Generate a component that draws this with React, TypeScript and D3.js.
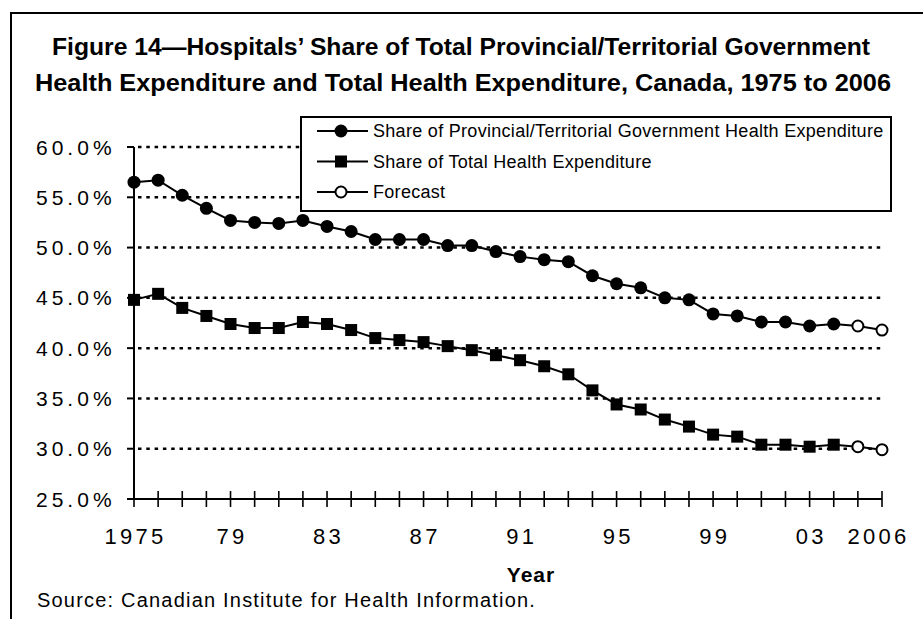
import * as d3 from "d3";

const years = d3.range(1975, 2007);
const provShare = [
  56.5, 56.7, 55.2, 53.9, 52.7, 52.5, 52.4, 52.7, 52.1, 51.6, 50.8, 50.8, 50.8,
  50.2, 50.2, 49.6, 49.1, 48.8, 48.6, 47.2, 46.4, 46.0, 45.0, 44.8, 43.4, 43.2,
  42.6, 42.6, 42.2, 42.4, 42.2, 41.8,
];
const totalShare = [
  44.8, 45.4, 44.0, 43.2, 42.4, 42.0, 42.0, 42.6, 42.4, 41.8, 41.0, 40.8, 40.6,
  40.2, 39.8, 39.3, 38.8, 38.2, 37.4, 35.8, 34.4, 33.9, 32.9, 32.2, 31.4, 31.2,
  30.4, 30.4, 30.2, 30.4, 30.2, 29.9,
];
const forecastYears = [2005, 2006];
const yTicks = [25, 30, 35, 40, 45, 50, 55, 60];
const xLabelYears = [1975, 1979, 1983, 1987, 1991, 1995, 1999, 2003, 2006];
const xLabels = ["1975", "79", "83", "87", "91", "95", "99", "03", "2006"];
const legendItems = [
  "Share of Provincial/Territorial Government Health Expenditure",
  "Share of Total Health Expenditure",
  "Forecast",
];

const W = 923;
const H = 619;
const font = "'Liberation Sans', Arial, sans-serif";

export default function App() {
  const x = d3.scaleLinear().domain([1975, 2006]).range([134, 882]);
  const y = d3.scaleLinear().domain([25, 60]).range([499, 147]);

  const line = d3
    .line<number>()
    .x((_, i) => x(years[i]))
    .y((d) => y(d));

  const isFc = (yr: number) => forecastYears.includes(yr);

  return (
    <svg
      width={W}
      height={H}
      style={{ position: "fixed", left: 0, top: 0, background: "#fff" }}
      fontFamily={font}
    >
      {/* frame: left and top only */}
      <path d={`M11,${H} V13 H${W}`} fill="none" stroke="#000" strokeWidth={2} />

      {/* title */}
      <g fontWeight="bold" fontSize={23} textAnchor="middle">
        <text x={461} y={55} textLength={818} lengthAdjust="spacingAndGlyphs">
          Figure 14—Hospitals’ Share of Total Provincial/Territorial Government
        </text>
        <text x={463} y={91} textLength={856} lengthAdjust="spacingAndGlyphs">
          Health Expenditure and Total Health Expenditure, Canada, 1975 to 2006
        </text>
      </g>

      {/* gridlines */}
      {yTicks
        .filter((t) => t > 25)
        .map((t) => (
          <line
            key={t}
            x1={x(1975)}
            x2={x(2006) + 1}
            y1={y(t)}
            y2={y(t)}
            stroke="#000"
            strokeWidth={2.5}
            strokeDasharray="3.5 4.8"
            strokeDashoffset={-4}
          />
        ))}

      {/* y axis */}
      <line x1={x(1975)} x2={x(1975)} y1={y(60)} y2={y(25)} stroke="#000" strokeWidth={2} />
      {yTicks.map((t) => (
        <g key={t}>
          <line x1={x(1975) - 7} x2={x(1975)} y1={y(t)} y2={y(t)} stroke="#000" strokeWidth={2} />
          <text
            x={36}
            y={y(t)}
            dy="0.36em"
            fontSize={21}
            letterSpacing={4}
          >
            {t.toFixed(1)}%
          </text>
        </g>
      ))}

      {/* x axis */}
      <line x1={x(1975) - 7} x2={x(2006)} y1={y(25)} y2={y(25)} stroke="#000" strokeWidth={2} />
      {years.map((yr) => (
        <line
          key={yr}
          x1={x(yr)}
          x2={x(yr)}
          y1={y(25) - 8}
          y2={y(25) + 8}
          stroke="#000"
          strokeWidth={1.6}
        />
      ))}
      {xLabelYears.map((yr, i) => (
        <text
          key={yr}
          x={x(yr) + (yr === 2006 ? -5 : 0) + 1.6}
          y={544}
          fontSize={22}
          letterSpacing={3.3}
          textAnchor="middle"
        >
          {xLabels[i]}
        </text>
      ))}
      <text x={531} y={582} fontSize={21} fontWeight="bold" letterSpacing={1} textAnchor="middle">
        Year
      </text>
      <text x={37} y={607} fontSize={20} letterSpacing={1.2}>
        Source: Canadian Institute for Health Information.
      </text>

      {/* series */}
      {[provShare, totalShare].map((s, k) => (
        <g key={k}>
          <path d={line(s) ?? ""} fill="none" stroke="#000" strokeWidth={2} />
          {s.map((v, i) => {
            const yr = years[i];
            const cx = x(yr);
            const cy = y(v);
            if (isFc(yr))
              return <circle key={i} cx={cx} cy={cy} r={5.5} fill="#fff" stroke="#000" strokeWidth={2} />;
            return k === 0 ? (
              <circle key={i} cx={cx} cy={cy} r={6.5} fill="#000" />
            ) : (
              <rect key={i} x={cx - 6} y={cy - 6} width={12} height={12} fill="#000" />
            );
          })}
        </g>
      ))}

      {/* legend */}
      <rect x={301} y={117} width={590} height={94} fill="#fff" stroke="#000" strokeWidth={2} />
      {legendItems.map((lab, i) => {
        const ly = 131 + i * 30.5;
        return (
          <g key={lab}>
            <line x1={317} x2={368} y1={ly} y2={ly} stroke="#000" strokeWidth={2} />
            {i === 0 && <circle cx={341} cy={ly} r={6.5} fill="#000" />}
            {i === 1 && <rect x={335} y={ly - 6} width={12} height={12} fill="#000" />}
            {i === 2 && <circle cx={341} cy={ly} r={5.5} fill="#fff" stroke="#000" strokeWidth={2} />}
            <text x={373} y={ly} dy="0.36em" fontSize={18} letterSpacing={0.3}>
              {lab}
            </text>
          </g>
        );
      })}
    </svg>
  );
}
